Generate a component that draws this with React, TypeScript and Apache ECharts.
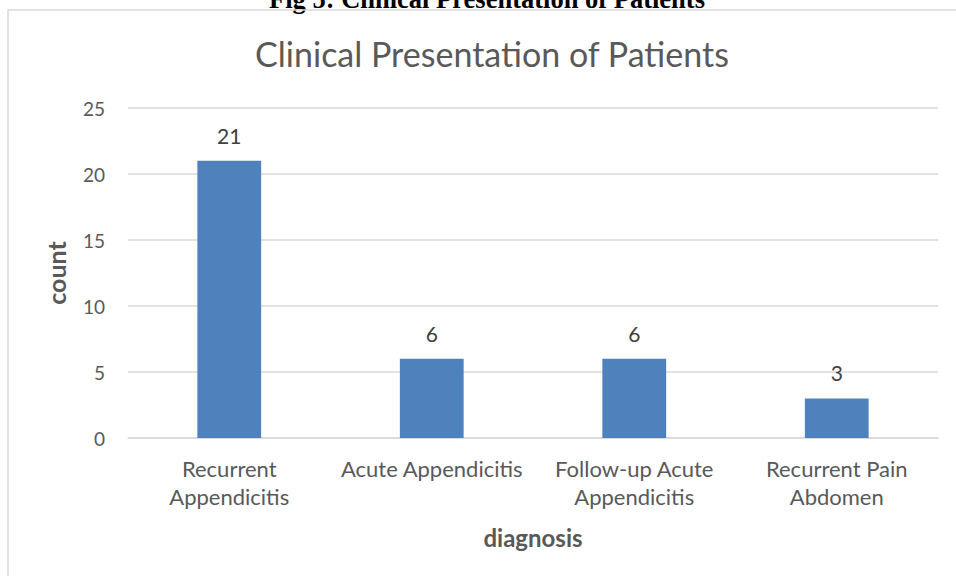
import React, { useEffect, useRef } from "react";
import * as echarts from "echarts";

const categories = [
  "Recurrent\nAppendicitis",
  "Acute Appendicitis",
  "Follow-up Acute\nAppendicitis",
  "Recurrent Pain\nAbdomen",
];
const counts = [21, 6, 6, 3];
const chartTitle = "Clinical Presentation of Patients";
const figCaption = "Fig 5: Clinical Presentation of Patients";
const xName = "diagnosis";
const yName = "count";

const FONT = "Lato, 'Open Sans', sans-serif";
const TXT = "#595959";

export default function App() {
  const ref = useRef<HTMLDivElement>(null);
  useEffect(() => {
    if (!ref.current) return;
    const chart = echarts.init(ref.current, undefined, { renderer: "svg" });
    chart.setOption({
      animation: false,
      backgroundColor: "#ffffff",
      textStyle: { fontFamily: FONT },
      title: {
        text: chartTitle,
        left: 487,
        textAlign: "center",
        top: 31,
        textStyle: { fontFamily: FONT, fontSize: 34, fontWeight: "normal", color: TXT },
      },
      graphic: [
        {
          type: "text",
          x: 487,
          y: 12,
          style: {
            text: figCaption,
            fontFamily: "'Liberation Serif', 'Times New Roman', serif",
            fontWeight: "bold",
            fontSize: 26.5,
            fill: "#000",
            textAlign: "center",
            textVerticalAlign: "bottom",
          },
        },
        {
          type: "rect",
          shape: { x: 8, y: 10, width: 1000, height: 700 },
          style: { fill: "none", stroke: "#d9d9d9", lineWidth: 1.5 },
          silent: true,
        },
      ],
      grid: { left: 128, right: 18, top: 108, bottom: 138 },
      xAxis: {
        type: "category",
        data: categories,
        name: xName,
        nameLocation: "middle",
        nameGap: 87,
        nameTextStyle: { fontFamily: FONT, fontSize: 24, fontWeight: "bold", color: TXT },
        axisLine: { show: true, lineStyle: { color: "#d9d9d9", width: 1.5 } },
        axisTick: { show: false },
        axisLabel: {
          fontFamily: FONT,
          fontSize: 22,
          color: TXT,
          lineHeight: 28,
          margin: 16,
          interval: 0,
        },
      },
      yAxis: {
        type: "value",
        min: 0,
        max: 25,
        interval: 5,
        name: yName,
        nameLocation: "middle",
        nameGap: 60,
        nameTextStyle: { fontFamily: FONT, fontSize: 25, fontWeight: "bold", color: TXT },
        axisLine: { show: false },
        axisTick: { show: false },
        axisLabel: { fontFamily: FONT, fontSize: 19, color: TXT, margin: 23 },
        splitLine: { lineStyle: { color: "#d9d9d9", width: 1.5 } },
      },
      series: [
        {
          type: "bar",
          data: counts,
          barWidth: "31.5%",
          itemStyle: { color: "#4f81bd" },
          label: {
            show: true,
            position: "top",
            distance: 15,
            fontFamily: FONT,
            fontSize: 21,
            color: "#404040",
          },
        },
      ],
    });
    return () => chart.dispose();
  }, []);
  return (
    <div
      ref={ref}
      style={{ position: "fixed", left: 0, top: 0, width: 956, height: 576 }}
    />
  );
}
